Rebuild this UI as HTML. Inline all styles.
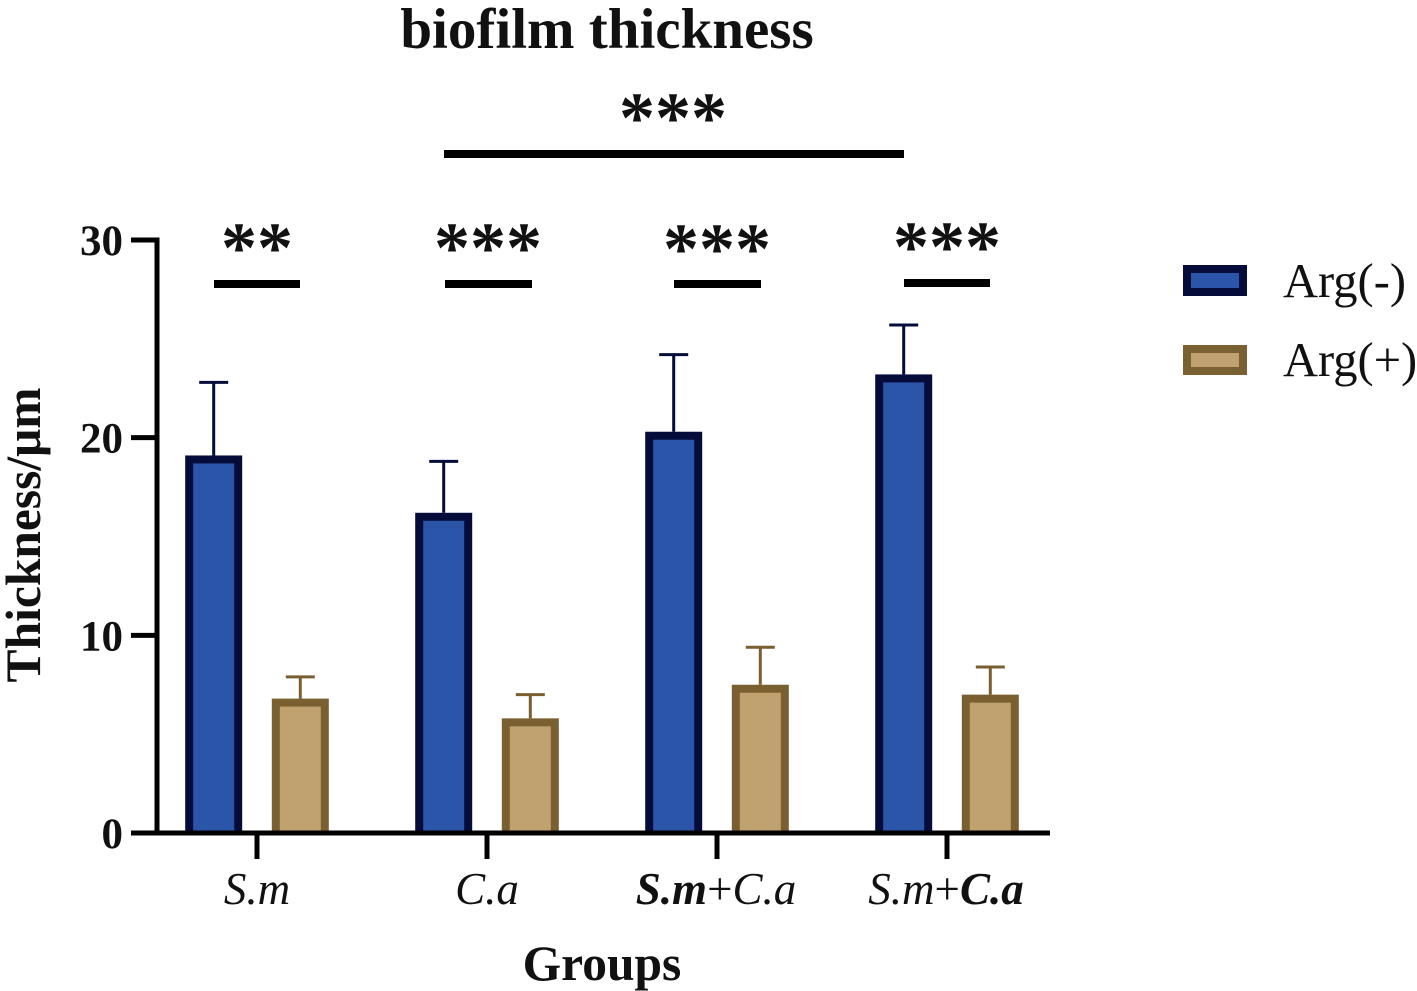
<!DOCTYPE html>
<html lang="en">
<head>
<meta charset="utf-8">
<title>biofilm thickness</title>
<style>
html,body{margin:0;padding:0;background:#fff;width:1417px;height:991px;overflow:hidden}
svg{display:block}
text{font-family:"Liberation Serif",serif;fill:#111}
</style>
</head>
<body>
<svg id="chart" xmlns="http://www.w3.org/2000/svg" width="1417" height="991" viewBox="0 0 1417 991">
  <rect x="0" y="0" width="1417" height="991" fill="#fff"/>
  <text x="607" y="48" font-size="57" font-weight="bold" text-anchor="middle">biofilm thickness</text>
  <text transform="translate(40,535) rotate(-90)" font-size="49.5" font-weight="bold" text-anchor="middle">Thickness/μm</text>
  <text x="602" y="980" font-size="49.5" font-weight="bold" text-anchor="middle">Groups</text>

  <text x="257" y="904" font-size="45" font-style="italic" text-anchor="middle">S.m</text>
  <text x="487" y="904" font-size="45" font-style="italic" text-anchor="middle">C.a</text>
  <text x="716" y="904" font-size="45" font-style="italic" text-anchor="middle"><tspan font-weight="bold">S.m</tspan><tspan font-style="normal">+</tspan>C.a</text>
  <text x="946" y="904" font-size="45" font-style="italic" text-anchor="middle">S.m<tspan font-style="normal">+</tspan><tspan font-weight="bold">C.a</tspan></text>

  <g id="marks"></g>
  <g id="axes"></g>

  <rect x="444" y="150" width="460" height="8" fill="#000"/>
  <text x="673" y="142" font-size="72" font-weight="bold" text-anchor="middle">***</text>

  <rect x="214" y="280" width="86" height="8" fill="#000"/>
  <text x="257" y="272" font-size="72" font-weight="bold" text-anchor="middle">**</text>
  <rect x="445" y="280" width="87" height="8" fill="#000"/>
  <text x="488" y="272" font-size="72" font-weight="bold" text-anchor="middle">***</text>
  <rect x="674" y="280" width="87" height="8" fill="#000"/>
  <text x="717" y="273" font-size="72" font-weight="bold" text-anchor="middle">***</text>
  <rect x="904" y="279" width="86" height="8" fill="#000"/>
  <text x="947" y="271" font-size="72" font-weight="bold" text-anchor="middle">***</text>

  <g>
    <rect x="1187" y="269" width="56" height="23" fill="#2a55a8" stroke="#050c3a" stroke-width="8"/>
    <text x="1283" y="297" font-size="48.5">Arg(-)</text>
    <rect x="1187" y="349" width="56" height="22" fill="#bfa26f" stroke="#7a5f30" stroke-width="8"/>
    <text x="1283" y="376" font-size="48.5">Arg(+)</text>
  </g>
</svg>
<script>
var categories = ['S.m', 'C.a', 'S.m+C.a bold S.m', 'S.m+C.a bold C.a'];
var argMinusValues = [19.1, 16.2, 20.3, 23.2];
var argMinusErrorTops = [22.8, 18.8, 24.2, 25.7];
var argPlusValues = [6.8, 5.8, 7.5, 7.0];
var argPlusErrorTops = [7.9, 7.0, 9.4, 8.4];
var yTickLabels = [0, 10, 20, 30];

var NS = 'http://www.w3.org/2000/svg';
var marks = document.getElementById('marks');
var axes = document.getElementById('axes');

function yScale(v) { return 833 - v * (593 / 30); }
function xScale(i) { return 257 + i * 230; }

function make(tag, attrs, parent) {
  var el = document.createElementNS(NS, tag);
  for (var k in attrs) { el.setAttribute(k, attrs[k]); }
  parent.appendChild(el);
  return el;
}

function drawBar(cx, value, errTop, fill, stroke, seriesName, index) {
  var top = yScale(value);
  var errY = yScale(errTop);
  var base = yScale(0);
  var line = make('line', {x1: cx, x2: cx, y1: errY, y2: top, stroke: stroke, 'stroke-width': 3}, marks);
  
  
  var cap = make('line', {x1: cx - 14.5, x2: cx + 14.5, y1: errY, y2: errY, stroke: stroke, 'stroke-width': 3}, marks);
  
  
  var bar = make('rect', {x: cx - 28.5, y: top, width: 57, height: Math.max(base - top, 0), fill: stroke}, marks);
  
  
  bar.setAttribute('data-series', seriesName);
  bar.setAttribute('data-category', categories[index]);
  var inner = make('rect', {x: cx - 20.5, y: top + 8, width: 41, height: Math.max(base - top - 8, 0), fill: fill}, marks);
  
  
}

categories.forEach(function (c, i) {
  drawBar(xScale(i) - 43.3, argMinusValues[i], argMinusErrorTops[i], '#2a55a8', '#050c3a', 'Arg(-)', i);
  drawBar(xScale(i) + 43.3, argPlusValues[i], argPlusErrorTops[i], '#bfa26f', '#7a5f30', 'Arg(+)', i);
});

var yAxisLine = make('line', {x1: 157, x2: 157, y1: yScale(30) - 2.5, y2: 835, stroke: '#000', 'stroke-width': 5}, axes);


var xAxisLine = make('line', {x1: 131, x2: 1050, y1: 833, y2: 833, stroke: '#000', 'stroke-width': 5}, axes);



yTickLabels.forEach(function (t) {
  var y = yScale(t);
  var tick = make('line', {x1: 131, x2: 157, y1: y, y2: y, stroke: '#000', 'stroke-width': 5}, axes);
  
  
  var label = make('text', {x: 123, y: y + 15, 'font-size': 43, 'font-weight': 'bold', 'text-anchor': 'end'}, axes);
  label.textContent = String(t);
  
  
});

categories.forEach(function (c, i) {
  var x = xScale(i);
  var tick = make('line', {x1: x, x2: x, y1: 833, y2: 859, stroke: '#000', 'stroke-width': 5}, axes);
  
  
});
</script>
</body>
</html>
